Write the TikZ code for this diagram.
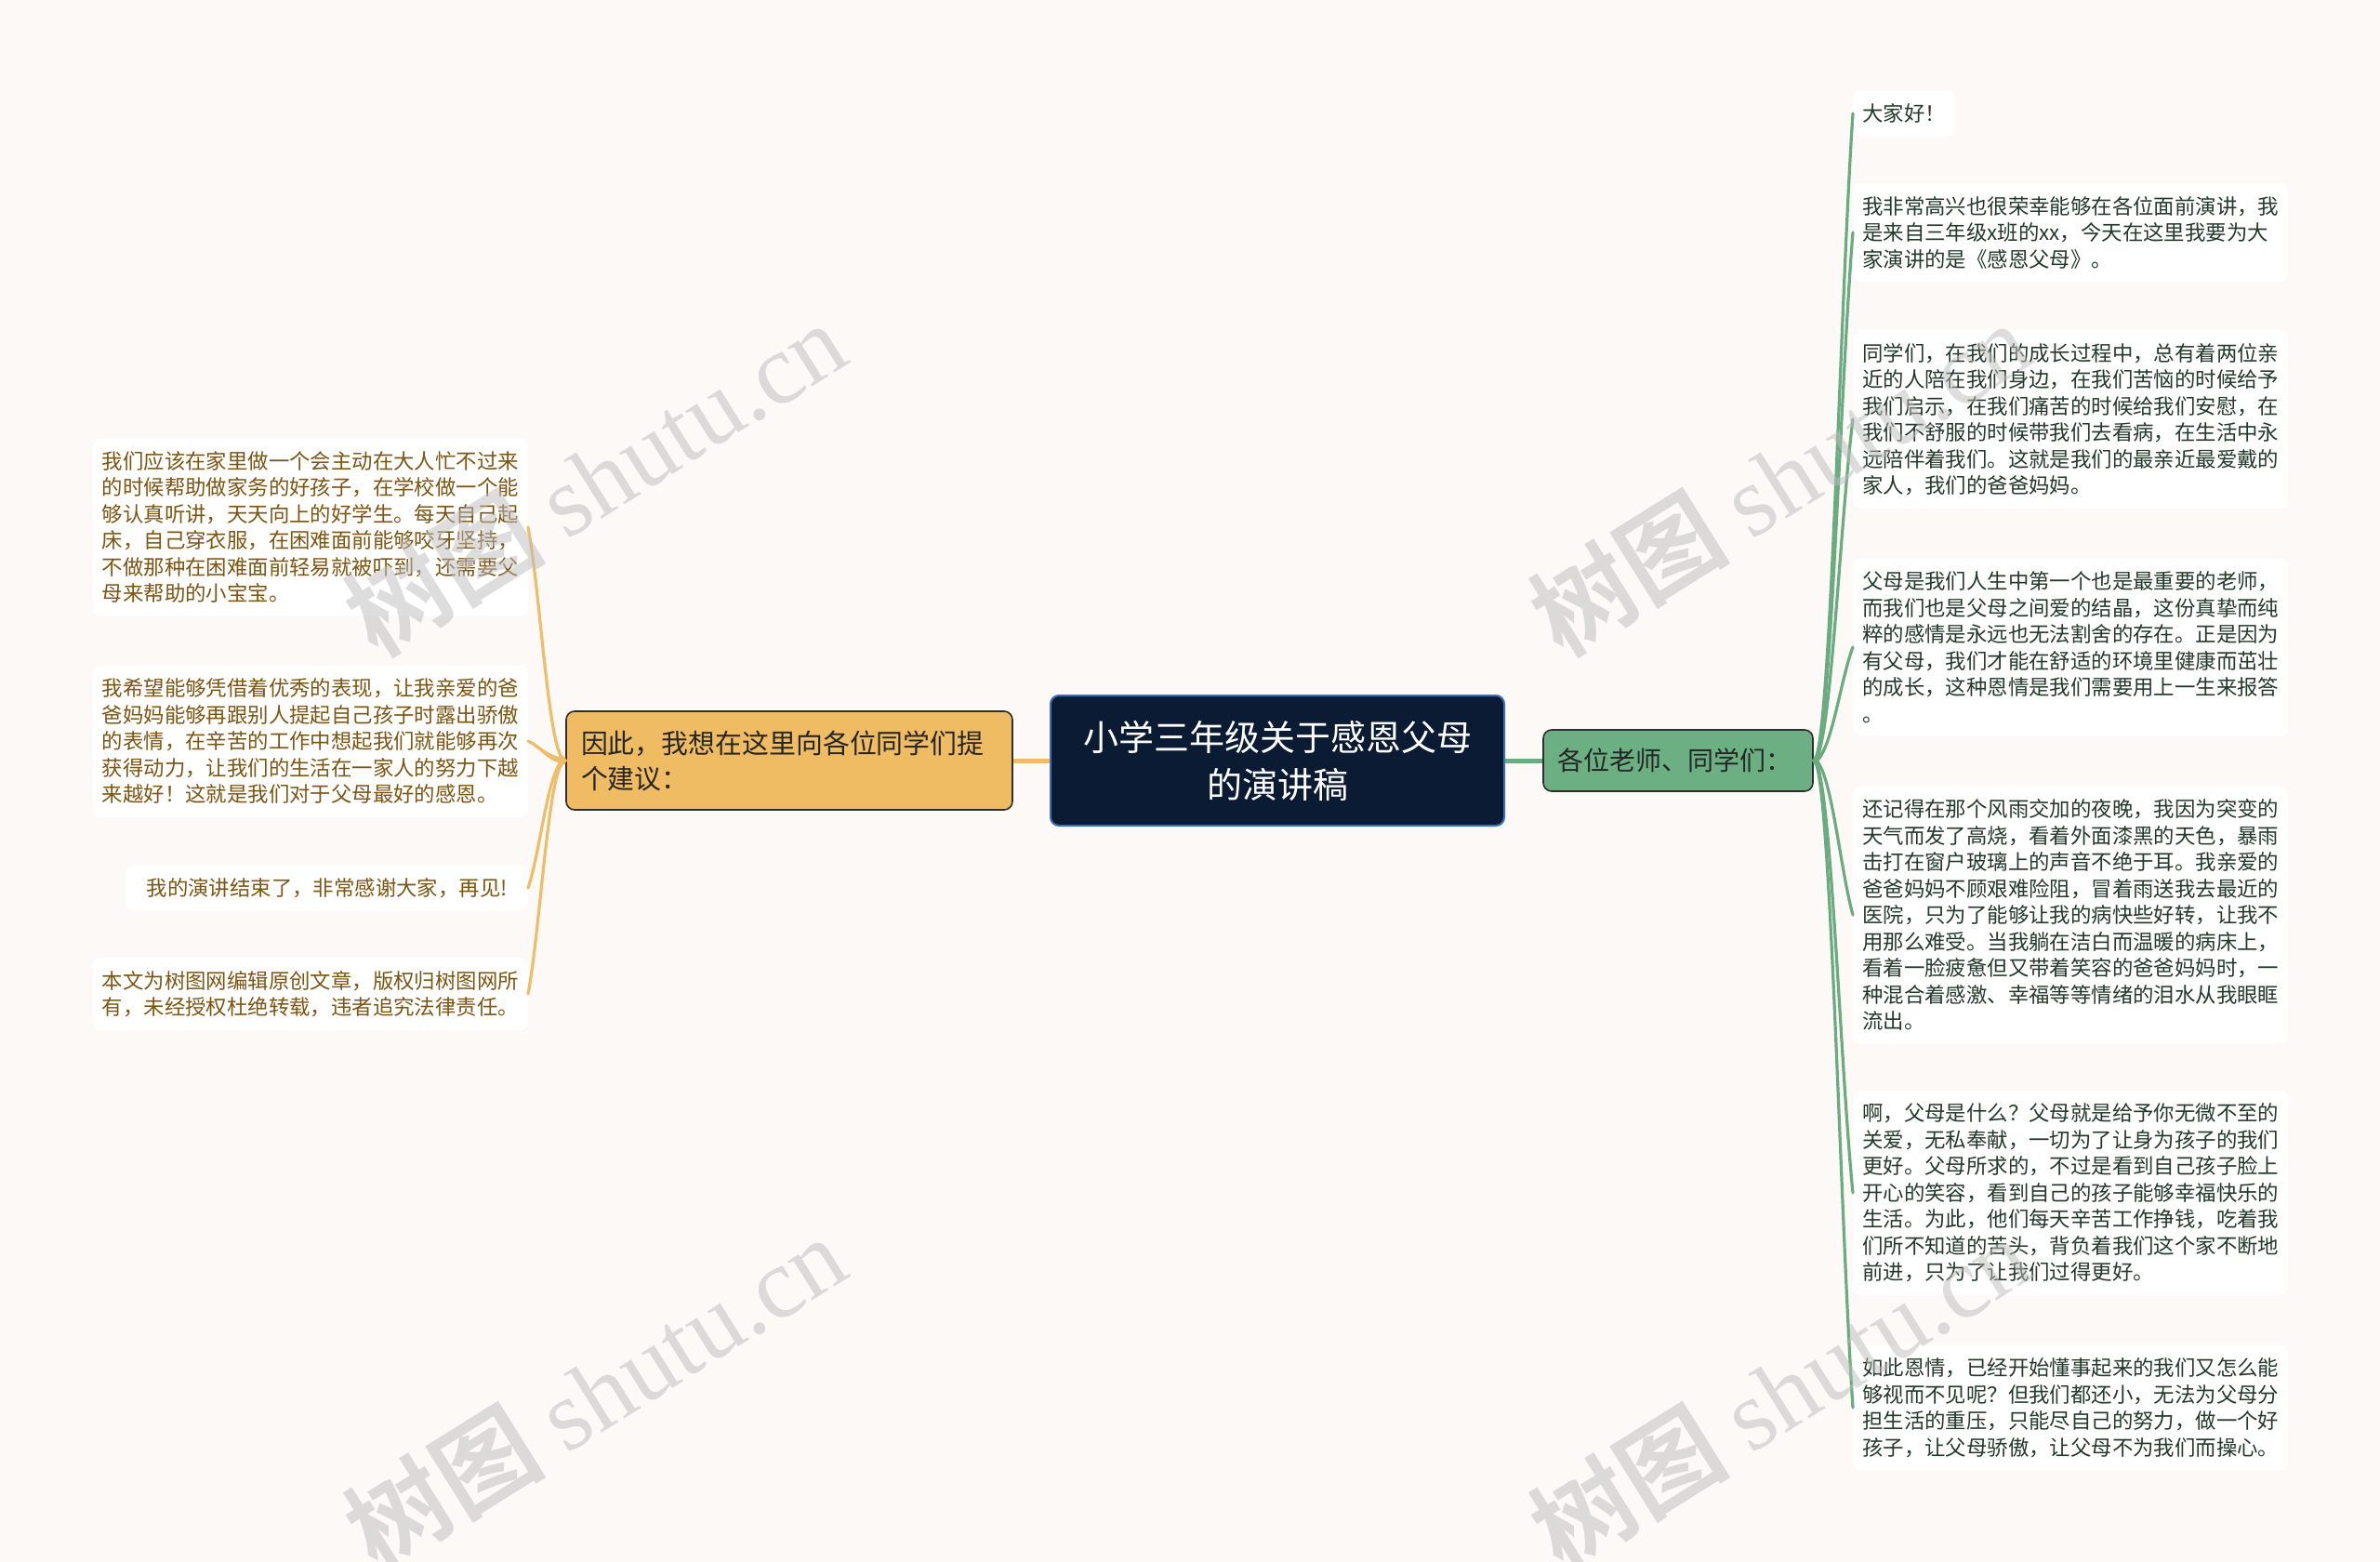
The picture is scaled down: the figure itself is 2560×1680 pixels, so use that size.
\documentclass[tikz,border=0pt]{standalone}
\usepackage{fontspec}
\setmainfont{Noto Sans CJK SC}
\newfontfamily\wmserif{Liberation Serif}
\newfontfamily\wmcjk{Noto Sans CJK SC Bold}
\usetikzlibrary{calc}
\definecolor{bgc}{HTML}{FCF9F7}
\definecolor{navy}{HTML}{0C1B34}
\definecolor{navyedge}{HTML}{3E6FB8}
\definecolor{orangefill}{HTML}{F0BC63}
\definecolor{greenfill}{HTML}{6BAF82}
\definecolor{edgedark}{HTML}{2E2E2E}
\definecolor{orangeline}{HTML}{EEBD6A}
\definecolor{greenline}{HTML}{6AAB80}
\definecolor{lefttext}{HTML}{7D5512}
\definecolor{righttext}{HTML}{24392B}
\definecolor{wmgray}{HTML}{BDBDBD}
\tikzset{
  leafbase/.style={fill=white, rounded corners=8pt, align=left, inner xsep=10pt, inner ysep=14pt,
    font=\fontsize{22.4}{28.5}\selectfont},
  rightleaf/.style={leafbase, text=righttext, anchor=west},
  leftleaf/.style={leafbase, text=lefttext, anchor=east},
  centralnode/.style={fill=navy, draw=navyedge, line width=2pt, rounded corners=9pt,
    minimum width=488pt, minimum height=140pt, text=white, align=center,
    font=\fontsize{38}{51}\selectfont},
  orangenode/.style={fill=orangefill, draw=edgedark, line width=1.6pt, rounded corners=9pt,
    minimum height=106pt, text width=448pt, inner xsep=16pt, align=left, text=black!85,
    font=\fontsize{28.9}{38}\selectfont},
  greennode/.style={fill=greenfill, draw=edgedark, line width=1.6pt, rounded corners=9pt,
    minimum height=66pt, text width=260pt, inner xsep=15pt, align=left, text=black!85,
    font=\fontsize{28}{34}\selectfont},
  watermark/.style={text=wmgray, opacity=0.5, rotate=32, font=\fontsize{108}{118}\selectfont},
  branchline/.style={line width=3.2pt, line cap=round}
}
\newcommand{\rtaper}[2]{%
  \fill[greenline] let \p1=(#1), \p2=(#2) in
    (\x1,\y1+3.5) .. controls (\x1+18,\y1+3.5) and (\x2-14,\y2+0.3*\y1-0.3*\y2+1.5) .. (\x2,\y2+1.5)
    -- (\x2,\y2-1.5) .. controls (\x2-14,\y2+0.3*\y1-0.3*\y2-1.5) and (\x1+18,\y1-3.5) .. (\x1,\y1-3.5) -- cycle;
  \draw[greenline, branchline] let \p1=(#1), \p2=(#2) in
    (\x1,\y1) .. controls (\x1+18,\y1) and (\x2-14,\y2+0.3*\y1-0.3*\y2) .. (\x2,\y2);}
\newcommand{\ltaper}[2]{%
  \fill[orangeline] let \p1=(#1), \p2=(#2) in
    (\x1,\y1+3.5) .. controls (\x1-18,\y1+3.5) and (\x2+14,\y2+0.3*\y1-0.3*\y2+1.5) .. (\x2,\y2+1.5)
    -- (\x2,\y2-1.5) .. controls (\x2+14,\y2+0.3*\y1-0.3*\y2-1.5) and (\x1-18,\y1-3.5) .. (\x1,\y1-3.5) -- cycle;
  \draw[orangeline, branchline] let \p1=(#1), \p2=(#2) in
    (\x1,\y1) .. controls (\x1-18,\y1) and (\x2+14,\y2+0.3*\y1-0.3*\y2) .. (\x2,\y2);}
\begin{document}
\begin{tikzpicture}[x=1pt,y=-1pt]
\fill[bgc] (0,0) rectangle (2560,1680);
\useasboundingbox (0,0) rectangle (2560,1680);

% main nodes
\node[centralnode] (c) at (1374,818) {小学三年级关于感恩父母\\的演讲稿};
\node[orangenode] (o) at (849,818) {因此，我想在这里向各位同学们提\\个建议：};
\node[greennode] (g) at (1805,818) {各位老师、同学们：};

% right leaves
\node[rightleaf] (r1) at (1993,122) {大家好！};
\node[rightleaf] (r2) at (1993,250) {我非常高兴也很荣幸能够在各位面前演讲，我\\是来自三年级x班的xx，今天在这里我要为大\\家演讲的是《感恩父母》。};
\node[rightleaf] (r3) at (1993,451) {同学们，在我们的成长过程中，总有着两位亲\\近的人陪在我们身边，在我们苦恼的时候给予\\我们启示，在我们痛苦的时候给我们安慰，在\\我们不舒服的时候带我们去看病，在生活中永\\远陪伴着我们。这就是我们的最亲近最爱戴的\\家人，我们的爸爸妈妈。};
\node[rightleaf] (r4) at (1993,696) {父母是我们人生中第一个也是最重要的老师，\\而我们也是父母之间爱的结晶，这份真挚而纯\\粹的感情是永远也无法割舍的存在。正是因为\\有父母，我们才能在舒适的环境里健康而茁壮\\的成长，这种恩情是我们需要用上一生来报答\\。};
\node[rightleaf] (r5) at (1993,984) {还记得在那个风雨交加的夜晚，我因为突变的\\天气而发了高烧，看着外面漆黑的天色，暴雨\\击打在窗户玻璃上的声音不绝于耳。我亲爱的\\爸爸妈妈不顾艰难险阻，冒着雨送我去最近的\\医院，只为了能够让我的病快些好转，让我不\\用那么难受。当我躺在洁白而温暖的病床上，\\看着一脸疲惫但又带着笑容的爸爸妈妈时，一\\种混合着感激、幸福等等情绪的泪水从我眼眶\\流出。};
\node[rightleaf] (r6) at (1993,1283) {啊，父母是什么？父母就是给予你无微不至的\\关爱，无私奉献，一切为了让身为孩子的我们\\更好。父母所求的，不过是看到自己孩子脸上\\开心的笑容，看到自己的孩子能够幸福快乐的\\生活。为此，他们每天辛苦工作挣钱，吃着我\\们所不知道的苦头，背负着我们这个家不断地\\前进，只为了让我们过得更好。};
\node[rightleaf] (r7) at (1993,1514) {如此恩情，已经开始懂事起来的我们又怎么能\\够视而不见呢？但我们都还小，无法为父母分\\担生活的重压，只能尽自己的努力，做一个好\\孩子，让父母骄傲，让父母不为我们而操心。};

% left leaves
\node[leftleaf] (l1) at (568,567) {我们应该在家里做一个会主动在大人忙不过来\\的时候帮助做家务的好孩子，在学校做一个能\\够认真听讲，天天向上的好学生。每天自己起\\床，自己穿衣服，在困难面前能够咬牙坚持，\\不做那种在困难面前轻易就被吓到，还需要父\\母来帮助的小宝宝。};
\node[leftleaf] (l2) at (568,797) {我希望能够凭借着优秀的表现，让我亲爱的爸\\爸妈妈能够再跟别人提起自己孩子时露出骄傲\\的表情，在辛苦的工作中想起我们就能够再次\\获得动力，让我们的生活在一家人的努力下越\\来越好！这就是我们对于父母最好的感恩。};
\node[leftleaf, inner xsep=22pt] (l3) at (568,955) {我的演讲结束了，非常感谢大家，再见!};
\node[leftleaf] (l4) at (568,1069) {本文为树图网编辑原创文章，版权归树图网所\\有，未经授权杜绝转载，违者追究法律责任。};

% connectors
\draw[orangeline, line width=5pt] (o.east) -- (c.west);
\draw[greenline, line width=5pt] (c.east) -- (g.west);
\foreach \r in {r1,r2,r3,r4,r5,r6,r7} {\rtaper{g.east}{\r.west}}
\foreach \l in {l1,l2,l3,l4} {\ltaper{o.west}{\l.east}}

% watermarks
\node[watermark] (w1) at (640,514) {{\wmcjk 树图} {\wmserif shutu.cn}};
\node[watermark] (w2) at (640,1497) {{\wmcjk 树图} {\wmserif shutu.cn}};
\node[watermark] (w3) at (1914,514) {{\wmcjk 树图} {\wmserif shutu.cn}};
\node[watermark] (w4) at (1914,1497) {{\wmcjk 树图} {\wmserif shutu.cn}};
\end{tikzpicture}
\end{document}
